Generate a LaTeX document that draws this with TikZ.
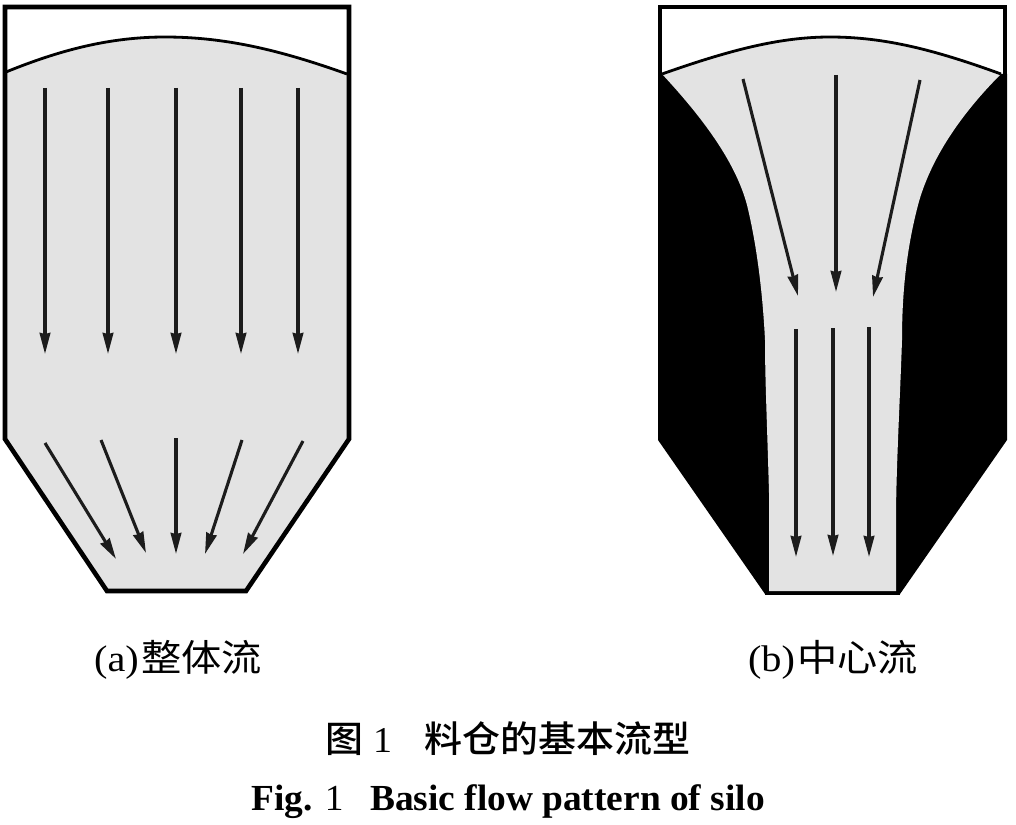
\documentclass[tikz,border=0pt]{standalone}
\usepackage{fontspec}
\setmainfont{Liberation Serif}
\newfontfamily\cjk{Noto Sans CJK SC}
\newfontfamily\cjkb{Noto Sans CJK SC Medium}
\usetikzlibrary{arrows.meta}
\definecolor{grain}{HTML}{E3E3E3}
\definecolor{arrowink}{HTML}{1C1C1C}
\tikzset{
  wall/.style={line width=4.6pt,black,line join=miter},
  surface/.style={line width=2.8pt,black},
  flow/.style={line width=3.1pt,arrowink,-{Stealth[length=21pt,width=10.5pt,inset=1pt]}},
  caption/.style={inner sep=0pt,anchor=base,transform shape}
}
\begin{document}
\begin{tikzpicture}[x=1pt,y=-1pt]
\useasboundingbox (0,0) rectangle (1016,824);
% Left silo
\fill[grain] (6,72) .. controls (60,50) and (110,37) .. (165,37) .. controls (225,37) and (280,50) .. (347,74)
  -- (348,438) -- (246,591) -- (107,591) -- (6,438) -- cycle;
\draw[surface] (6,72) .. controls (60,50) and (110,37) .. (165,37) .. controls (225,37) and (280,50) .. (347,74);
\draw[wall] (5,439) -- (5,7) -- (349,7) -- (349,439) -- (246,591) -- (107,591) -- cycle;
\foreach \x in {45,108,176,241,298} \draw[flow] (\x,88) -- (\x,354);
\draw[flow] (45,443) -- (116,559);
\draw[flow] (101,440) -- (146,553);
\draw[flow] (176,438) -- (176,554);
\draw[flow] (242,440) -- (205,554);
\draw[flow] (303,441) -- (243,554);
% Right silo
\fill[black] (658,74) -- (1007,74) -- (1007,440) -- (900,594) -- (765,594) -- (658,440) -- cycle;
\fill[grain] (662,74) .. controls (730,50) and (780,37) .. (830,37) .. controls (885,37) and (935,50) .. (1001,74)
  .. controls (960,115) and (930,160) .. (918,205) .. controls (905,255) and (902,300) .. (902,340)
  .. controls (900,400) and (896,470) .. (896,520) -- (896,591) -- (769,591) -- (769,493)
  .. controls (767,420) and (765,380) .. (765,340) .. controls (763,300) and (758,250) .. (747,205)
  .. controls (735,160) and (700,115) .. cycle;
\draw[surface] (662,74) .. controls (730,50) and (780,37) .. (830,37) .. controls (885,37) and (935,50) .. (1001,74);
\draw[wall] (660,74) -- (660,7) -- (1005,7) -- (1005,74);
\draw[line width=3pt,black] (765,593) -- (900,593);
\draw[flow] (743,79) -- (798,296);
\draw[flow] (836,75) -- (836,292);
\draw[flow] (920,80) -- (873,297);
\draw[flow] (796,329) -- (796,557);
\draw[flow] (833,328) -- (833,556);
\draw[flow] (869,327) -- (869,557);
% Captions
\node[caption,xscale=1.15,yscale=1.06,font=\fontsize{35}{35}\selectfont] (capa) at (178,671) {(a)\hspace{2pt}\cjk 整体流};
\node[caption,xscale=1.15,yscale=1.06,font=\fontsize{35}{35}\selectfont] (capb) at (833,671) {(b)\hspace{2pt}\cjk 中心流};
\node[caption,xscale=1.085,yscale=1.04,font=\fontsize{35}{35}\selectfont] (figzh) at (508,752) {{\cjkb 图} 1\hspace{30pt}{\cjkb 料仓的基本流型}};
\node[caption,xscale=1.1,yscale=1.08,font=\fontsize{34}{34}\selectfont] (figen) at (508,810) {\textbf{Fig.} 1\hspace{24pt}\textbf{Basic flow pattern of silo}};
\end{tikzpicture}
\end{document}
